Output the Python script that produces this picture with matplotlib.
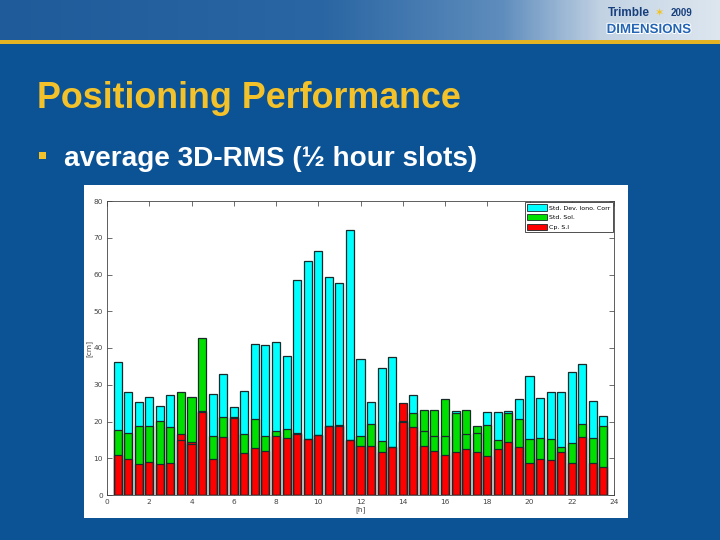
import numpy as np
import matplotlib
matplotlib.use("Agg")
import matplotlib.pyplot as plt
import matplotlib.patheffects as pe
from matplotlib.patches import Rectangle, Patch, Arc
from matplotlib.colors import LinearSegmentedColormap

# half hour slots (hour of day)
slot_hours = np.arange(0.5, 24.0, 0.5)

# average 3D-RMS [cm] per slot
std_dev_iono = [36.1, 28.0, 25.3, 26.8, 24.3, 27.3, 14.9, 13.9, 22.5, 27.4,
                32.8, 23.9, 28.2, 41.1, 40.8, 41.7, 37.7, 58.5, 63.8, 66.4,
                59.4, 57.6, 72.1, 37.1, 25.4, 34.5, 37.6, 20.0, 27.3, 17.3,
                16.1, 16.1, 22.8, 16.6, 16.9, 22.5, 22.7, 22.8, 26.1, 32.4,
                26.3, 28.1, 27.9, 33.4, 35.6, 25.6, 21.6]
std_sol = [17.6, 17.0, 18.9, 18.9, 20.1, 18.6, 27.9, 26.8, 42.8, 16.1,
           21.3, 21.0, 16.6, 20.8, 16.1, 17.3, 18.0, 16.7, 15.2, 16.3,
           18.8, 18.9, 14.9, 16.1, 19.3, 14.8, 13.0, 20.2, 22.2, 23.2,
           23.0, 26.1, 22.2, 23.0, 18.9, 19.1, 15.0, 22.2, 20.6, 15.2,
           15.4, 15.3, 13.1, 14.2, 19.4, 15.6, 18.9]
cp_si = [11.0, 9.9, 8.5, 9.0, 8.3, 8.8, 16.7, 14.3, 22.8, 9.7,
         15.8, 21.1, 11.5, 12.9, 11.9, 16.0, 15.5, 16.8, 15.3, 16.4,
         18.9, 19.0, 15.0, 13.2, 13.2, 11.8, 13.1, 25.0, 18.6, 13.2,
         11.9, 11.0, 11.8, 12.4, 11.8, 10.7, 12.4, 14.5, 13.1, 8.8,
         9.8, 9.6, 11.6, 8.8, 15.9, 8.8, 7.6]

series_labels = ['Std. Dev. Iono. Corr', 'Std. Sol.', 'Cp. S.I']
series_colors = ['#00ffff', '#00e000', '#ff0000']

W, H = 720, 540
fig = plt.figure(figsize=(7.2, 5.4), dpi=100, facecolor='#0c5396')


def px(x0, y0, w, h):
    # pixel box (top-left origin) -> figure fraction rect
    return [x0 / W, 1 - (y0 + h) / H, w / W, h / H]


# header band with gradient and light swooshes
band = fig.add_axes(px(0, 0, W, 40))
cmap = LinearSegmentedColormap.from_list(
    'band', [(0, '#1f5b9a'), (0.45, '#2a66a3'), (0.7, '#5f8dbd'),
             (0.84, '#c3d3e4'), (1, '#dde6ef')])
band.imshow(np.linspace(0, 1, 300)[None, :], aspect='auto', cmap=cmap,
            extent=[0, W, 40, 0])
for cx, r in [(520, 160), (560, 140), (600, 120), (470, 190)]:
    band.add_patch(Arc((cx, 140), 2 * r, 2 * r, theta1=90, theta2=170,
                       color='white', alpha=0.35, lw=2))
band.set_xlim(0, W)
band.set_ylim(40, 0)
band.set_axis_off()

fig.add_artist(Rectangle((0, 1 - 44 / H), 1, 4 / H, transform=fig.transFigure,
                         color='#e6b422', lw=0))

# logo
fig.text(608 / W, 1 - 16 / H, 'Trimble', color='#173f7c', fontsize=8.5,
         fontweight='bold', family='Liberation Sans', va='baseline')
fig.text(660 / W, 1 - 13 / H, '\u2736', color='#f2c21b', fontsize=8,
         family='DejaVu Sans', ha='center', va='center')
fig.text(671 / W, 1 - 16 / H, '2009', color='#173f7c', fontsize=7,
         fontweight='bold', family='Liberation Sans', va='baseline')
fig.text(649 / W, 1 - 33 / H, 'DIMENSIONS', color='#2465b5', fontsize=9.6,
         fontweight='bold', family='Liberation Sans', ha='center',
         va='baseline',
         path_effects=[pe.withStroke(linewidth=1.5, foreground='white')])

# title and bullet
fig.text(37 / W, 1 - 108.5 / H, 'Positioning Performance', color='#f3c22b',
         fontsize=25.8, fontweight='bold', family='Liberation Sans',
         va='baseline')
fig.add_artist(Rectangle((39 / W, 1 - 159 / H), 7 / W, 7 / H,
                         transform=fig.transFigure, color='#f3c22b', lw=0))
fig.text(64 / W, 1 - 165.5 / H, 'average 3D-RMS (\u00bd hour slots)',
         color='white', fontsize=20.1, fontweight='bold',
         family='Liberation Sans', va='baseline')

# white panel behind the plot
fig.add_artist(Rectangle((84 / W, 1 - 518 / H), 544 / W, 333 / H,
                         transform=fig.transFigure, color='white', lw=0,
                         zorder=-1))

ax = fig.add_axes(px(107, 201, 507, 294))
ax.set_facecolor('white')
width = 0.38
values = [std_dev_iono, std_sol, cp_si]
# overlapping bars drawn from zero, faces first then all outlines on top
for z, (vals, col) in enumerate(zip(values, series_colors)):
    ax.bar(slot_hours, vals, width=width, color=col, lw=0, zorder=2 + z)
for vals in values:
    ax.bar(slot_hours, vals, width=width, fill=False, edgecolor='#1a2a2a',
           lw=0.9, zorder=6)

ax.set_xlim(0, 24)
ax.set_ylim(0, 80)
ax.set_xticks(range(0, 25, 2))
ax.set_yticks(range(0, 81, 10))
ax.tick_params(direction='in', length=3.5, width=0.5, labelsize=5.3,
               labelcolor='#444444', color='#333333', top=True, right=True,
               pad=3)
for s in ax.spines.values():
    s.set_linewidth(0.6)
    s.set_color('#444444')
ax.set_ylabel('[cm]', fontsize=5.3, color='#444444', labelpad=1)
ax.set_xlabel('[h]', fontsize=5.3, color='#444444', labelpad=1)

handles = [Patch(facecolor=c, edgecolor='#1a2a2a', lw=0.6) for c in series_colors]
leg = ax.legend(handles, series_labels, loc='upper right', fontsize=4.5,
                handlelength=3.3, handleheight=1.2, labelspacing=0.5,
                handletextpad=0.3, borderpad=0.35, borderaxespad=0.2,
                fancybox=False, framealpha=1, edgecolor='#333333')
leg.get_frame().set_linewidth(0.6)
leg.set_zorder(10)

fig.savefig('out.png', dpi=100, facecolor=fig.get_facecolor())
